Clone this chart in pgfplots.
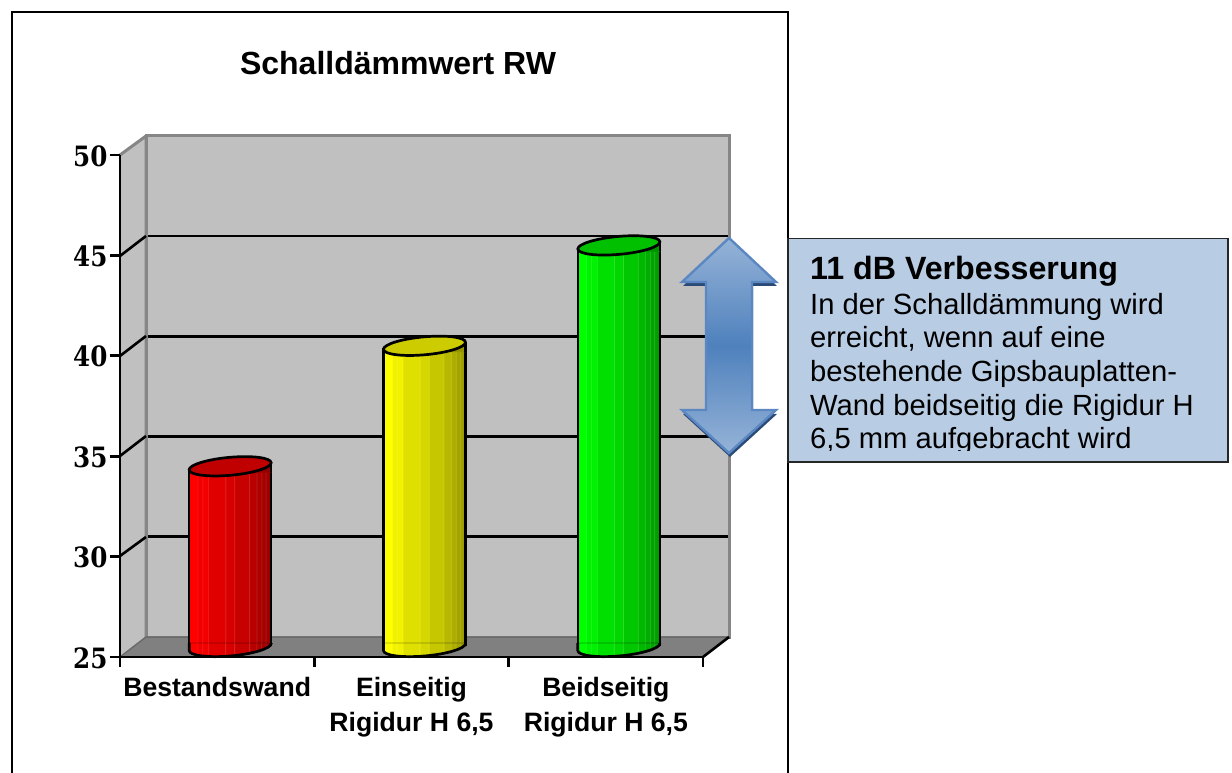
\documentclass[border=0pt]{standalone}
\usepackage{fontspec}
\usepackage{pgfplots}
\pgfplotsset{compat=1.18}
\setmainfont{Liberation Sans}
\newfontfamily\tickfont[FakeStretch=0.88]{DejaVu Serif}
\definecolor{wall}{HTML}{C0C0C0}
\definecolor{edge}{HTML}{868686}
\definecolor{floorc}{HTML}{808080}
\definecolor{boxc}{HTML}{B8CCE4}
\definecolor{arrL}{HTML}{95B3D7}
\definecolor{arrM}{HTML}{4F81BD}
\definecolor{arrS}{HTML}{5B88C2}
\definecolor{arrD}{HTML}{2A4A78}
\definecolor{basered}{HTML}{FF0000}
\definecolor{baseyellow}{HTML}{FFFF00}
\definecolor{basegreen}{HTML}{00FF00}
\definecolor{capred}{HTML}{C00000}
\definecolor{capyellow}{HTML}{CCCC00}
\definecolor{capgreen}{HTML}{00C000}
\newcommand\mkcyl[1]{%
 \colorlet{#1A}{base#1}\colorlet{#1AS}{base#1!92!white}%
 \colorlet{#1B}{base#1!95!black}\colorlet{#1BS}{base#1!95!black!88!white}%
 \colorlet{#1C}{base#1!88!black}\colorlet{#1CS}{base#1!88!black!82!white}%
 \colorlet{#1D}{base#1!84!black}\colorlet{#1DS}{base#1!84!black!82!white}%
 \colorlet{#1E}{base#1!78!black}\colorlet{#1ES}{base#1!78!black!82!white}%
 \colorlet{#1F}{base#1!72!black}\colorlet{#1FS}{base#1!72!black!85!white}%
 \colorlet{#1G}{base#1!68!black}\colorlet{#1GS}{base#1!68!black!85!white}%
 \colorlet{#1H}{base#1!64!black}\colorlet{#1HS}{base#1!64!black!85!white}%
 \colorlet{#1I}{base#1!58!black}%
 \pgfdeclarehorizontalshading{cyl#1}{100bp}{color(0bp)=(#1A); color(25bp)=(#1A); color(29.7bp)=(#1A); color(30bp)=(#1AS); color(30.5bp)=(#1B); color(32.7bp)=(#1B); color(33bp)=(#1BS); color(33.5bp)=(#1B); color(36.2bp)=(#1B); color(36.5bp)=(#1BS); color(37bp)=(#1C); color(46.7bp)=(#1C); color(47bp)=(#1CS); color(47.5bp)=(#1D); color(52.2bp)=(#1D); color(52.5bp)=(#1DS); color(53bp)=(#1E); color(61.2bp)=(#1E); color(61.5bp)=(#1ES); color(62bp)=(#1F); color(65.7bp)=(#1F); color(66bp)=(#1FS); color(66.5bp)=(#1G); color(68.7bp)=(#1G); color(69bp)=(#1GS); color(69.5bp)=(#1H); color(71.2bp)=(#1H); color(71.5bp)=(#1HS); color(72bp)=(#1H); color(75bp)=(#1I); color(100bp)=(#1I)}%
 % top of a cylinder, placed at the value
 \pgfdeclareplotmark{top#1}{%
  \fill[#1I] (26pt,-6pt)--(41pt,-6pt)--(41pt,3.5pt)--cycle;
  \draw[black,line width=2.6pt] (41pt,-6pt)--(41pt,3.5pt);
  \pgfsetlinewidth{2.7pt}\pgfsetstrokecolor{black}\pgfsetfillcolor{cap#1}%
  \pgfpathellipse{\pgfpointorigin}{\pgfpoint{41pt}{3.5pt}}{\pgfpoint{0pt}{9pt}}%
  \pgfusepath{fill,stroke}}%
 % foot of a cylinder, placed at the lower limit
 \pgfdeclareplotmark{foot#1}{%
  \path[shade,shading=cyl#1] (-41pt,4pt)--(-41pt,-3.5pt) .. controls (-41pt,-8.47pt) and (-22.64pt,-10.93pt) .. (0pt,-9pt) .. controls (22.64pt,-7.07pt) and (41pt,-1.47pt) .. (41pt,3.5pt)--(41pt,4pt)--cycle;
  \draw[black,line width=2.7pt] (-41pt,4pt)--(-41pt,-3.5pt) .. controls (-41pt,-8.47pt) and (-22.64pt,-10.93pt) .. (0pt,-9pt) .. controls (22.64pt,-7.07pt) and (41pt,-1.47pt) .. (41pt,3.5pt)--(41pt,4pt);}%
}
\mkcyl{red}\mkcyl{yellow}\mkcyl{green}
\begin{document}
\begin{tikzpicture}
\useasboundingbox (0pt,0pt) rectangle (1232pt,772pt);
\fill[white] (0pt,0pt) rectangle (1232pt,772pt);
% frame
\draw[black,line width=2.4pt] (12pt,-5pt)--(12pt,760pt)--(788pt,760pt)--(788pt,-5pt);
\clip (0pt,0pt) rectangle (1232pt,772pt);
\node[anchor=base,font=\fontsize{32}{36}\selectfont\bfseries] at (398pt,697pt) {Schalldämmwert RW};
% back wall
\begin{axis}[at={(146pt,135pt)},anchor=south west,scale only axis,width=583pt,height=501pt,
  xmin=-0.5,xmax=2.5,ymin=25,ymax=50,xtick=\empty,ytick={30,35,40,45},yticklabels={},
  major tick length=0pt,ymajorgrids,grid style={black,line width=2.6pt},
  axis background/.style={fill=wall},axis line style={edge,line width=3pt}]
\end{axis}
% side wall and floor
\begin{scope}[x=1pt,y=-1pt,yshift=772pt]
\fill[wall] (120,155)--(146,136)--(146,637)--(120,657)--cycle;
\draw[edge,line width=3pt] (146,136)--(146,637) (120,155)--(146,136);
\draw[black,line width=2.6pt] (120,256)--(146,236) (120,356)--(146,336) (120,456)--(146,436) (120,556)--(146,537);
\fill[floorc] (120,657)--(146,637)--(729,637)--(703,657)--cycle;
\draw[edge!80!black,line width=1.5pt] (120,657)--(146,637)--(729,637);
\draw[black,line width=2.6pt] (703,657)--(729,637);
\end{scope}
% front axis with the scale
\begin{axis}[at={(120pt,115pt)},anchor=south west,scale only axis,width=583pt,height=502pt,
  xmin=-0.5,xmax=2.5,ymin=25,ymax=50,axis x line=bottom,axis y line=left,
  axis line style={black,line width=2.7pt,-},
  tick style={black,line width=2.6pt},tick align=outside,major tick length=10pt,
  xtick={-0.5,0.5,1.5,2.5},xticklabels={},
  extra x ticks={0,1,2},
  extra x tick labels={Bestandswand,Einseitig\\Rigidur H 6{,}5,Beidseitig\\Rigidur H 6{,}5},
  extra x tick style={tick style={draw=none},major tick length=0pt,
    xticklabel style={font=\fontsize{26.6}{35}\selectfont\bfseries,align=center,anchor=north,yshift=-17pt}},
  ytick={25,30,35,40,45,50},
  /pgf/number format/assume math mode=true,
  yticklabel style={font=\fontsize{28}{30}\selectfont\tickfont\bfseries,anchor=east,xshift=1pt,yshift=-1pt}]
\end{axis}
% cylinders
\begin{axis}[at={(133pt,130pt)},anchor=south west,scale only axis,width=583pt,height=497pt,
  xmin=-0.5,xmax=2.5,ymin=25.25,ymax=50,hide axis,clip mode=individual,
  ybar,bar width=82pt,bar shift=0pt]
\addplot[ybar,yshift=-3.5pt,draw=black,line width=2.6pt,shade,shading=cylred] coordinates {(0,34)};
\addplot[ybar,yshift=-3.5pt,draw=black,line width=2.6pt,shade,shading=cylyellow] coordinates {(1,40)};
\addplot[ybar,yshift=-3.5pt,draw=black,line width=2.6pt,shade,shading=cylgreen] coordinates {(2,45)};
\addplot[only marks,mark=topred] coordinates {(0,34)};
\addplot[only marks,mark=topyellow] coordinates {(1,40)};
\addplot[only marks,mark=topgreen] coordinates {(2,45)};
\end{axis}
\begin{axis}[at={(133pt,125pt)},anchor=south west,scale only axis,width=583pt,height=502pt,
  xmin=-0.5,xmax=2.5,ymin=25,ymax=50,hide axis,clip=false]
\addplot[only marks,mark=footred] coordinates {(0,25)};
\addplot[only marks,mark=footyellow] coordinates {(1,25)};
\addplot[only marks,mark=footgreen] coordinates {(2,25)};
\end{axis}
% double arrow and text box
\begin{scope}[x=1pt,y=-1pt,yshift=772pt]
\fill[arrD,xshift=1pt,yshift=-4pt] (729,238)--(776,282)--(752,282)--(752,410)--(776,410)--(729,453)--(682,410)--(706,410)--(706,282)--(682,282)--cycle;
\path[draw=arrS,line width=2.4pt,top color=arrL,bottom color=arrL,middle color=arrM] (729,238)--(776,282)--(752,282)--(752,410)--(776,410)--(729,453)--(682,410)--(706,410)--(706,282)--(682,282)--cycle;
\fill[boxc] (788,238.5) rectangle (1228,462);
\begin{scope}
\clip (788,238) rectangle (1228,451);
\node[anchor=base west,inner sep=0pt,font=\fontsize{32.2}{36}\selectfont\bfseries] at (810,280) {11 dB Verbesserung};
\node[anchor=base west,inner sep=0pt,font=\fontsize{29.2}{34}\selectfont] at (810,314.5) {In der Schalldämmung wird};
\node[anchor=base west,inner sep=0pt,font=\fontsize{29.2}{34}\selectfont] at (810,348) {erreicht, wenn auf eine};
\node[anchor=base west,inner sep=0pt,font=\fontsize{29.2}{34}\selectfont] at (810,382) {bestehende Gipsbauplatten-};
\node[anchor=base west,inner sep=0pt,font=\fontsize{29.2}{34}\selectfont] at (810,415.5) {Wand beidseitig die Rigidur H};
\node[anchor=base west,inner sep=0pt,font=\fontsize{29.2}{34}\selectfont] at (810,448.5) {6,5 mm aufgebracht wird};
\end{scope}
\draw[black!85,line width=1.8pt] (788,238.5) rectangle (1228,462);
\end{scope}
\end{tikzpicture}
\end{document}
